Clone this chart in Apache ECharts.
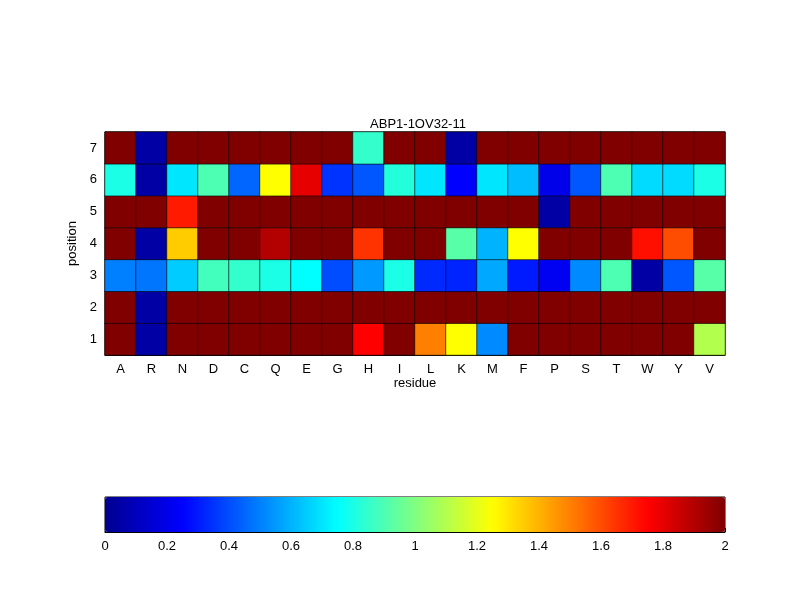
<!DOCTYPE html>
<html>
<head>
<meta charset="utf-8">
<script src="https://cdn.jsdelivr.net/npm/echarts@6/dist/echarts.min.js"></script>
<style>html,body{margin:0;background:#fff}#box{width:800px;height:600px}</style>
</head>
<body>
<div id="box"></div>
<script>
const residues = ["A","R","N","D","C","Q","E","G","H","I","L","K","M","F","P","S","T","W","Y","V"]
const positions = ["1","2","3","4","5","6","7"]
// values per position, ordered as residues
const pos1 = [2,0.05,2,2,2,2,2,2,1.75,2,1.5,1.25,0.52,2,2,2,2,2,2,1.1]
const pos2 = [2,0.05,2,2,2,2,2,2,2,2,2,2,2,2,2,2,2,2,2,2]
const pos3 = [0.5,0.48,0.65,0.88,0.85,0.8,0.75,0.4,0.55,0.8,0.33,0.32,0.58,0.3,0.22,0.52,0.9,0.05,0.42,0.92]
const pos4 = [2,0.05,1.35,2,2,1.9,2,2,1.65,2,2,0.92,0.6,1.25,2,2,2,1.72,1.6,2]
const pos5 = [2,2,1.7,2,2,2,2,2,2,2,2,2,2,2,0.05,2,2,2,2,2]
const pos6 = [0.8,0.05,0.7,0.9,0.45,1.25,1.8,0.35,0.42,0.82,0.7,0.25,0.7,0.62,0.2,0.42,0.9,0.68,0.68,0.8]
const pos7 = [2,0.05,2,2,2,2,2,2,0.85,2,2,0.05,2,2,2,2,2,2,2,2]

const rows = [pos1,pos2,pos3,pos4,pos5,pos6,pos7]
let cells = []
rows.forEach((r, yi) => r.forEach((v, xi) => cells.push([xi, yi, v])))

const jet = ['#00008f','#0000ff','#0080ff','#00ffff','#80ff80','#ffff00','#ff8000','#ff0000','#800000']
const font = {fontFamily: "Arial, Liberation Sans", color: "#000", fontSize: 13}

let myChart = echarts.init(document.getElementById("box"))
myChart.setOption({
    animation: false,
    title: {text: "ABP1-1OV32-11", left: 413, top: 113, textAlign: "center",
        textStyle: {...font, fontWeight: "normal", fontSize: 13}},
    grid: [
        {left: 105, top: 132, width: 620, height: 223, show: true, borderColor: "#000", borderWidth: 1},
        {left: 105, top: 497, width: 620, height: 35, show: true, borderColor: "#000", borderWidth: 1, backgroundColor: "transparent"}
    ],
    xAxis: [
        {type: "category", data: residues, gridIndex: 0, name: "residue", nameLocation: "middle", nameGap: 20,
            nameTextStyle: font, axisLabel: {...font, margin: 8}, axisTick: {show: false},
            axisLine: {lineStyle: {color: "#000"}}, splitLine: {show: false}},
        {type: "value", gridIndex: 1, min: 0, max: 2, interval: 0.2, axisLabel: {...font, margin: 8},
            axisTick: {inside: true, length: 4, lineStyle: {color: "#000"}}, axisLine: {lineStyle: {color: "#000"}}, splitLine: {show: false}}
    ],
    yAxis: [
        {type: "category", data: positions, gridIndex: 0, name: "position", nameLocation: "middle", nameGap: 22,
            nameTextStyle: font, axisLabel: {...font, margin: 8}, axisTick: {show: false},
            axisLine: {lineStyle: {color: "#000"}}},
        {type: "value", gridIndex: 1, show: false, min: 0, max: 1}
    ],
    visualMap: {
        type: "continuous", min: 0, max: 2, orient: "horizontal", left: 100, top: 492,
        itemWidth: 35, itemHeight: 620, calculable: false, showLabel: false, text: null,
        seriesIndex: 0, inRange: {color: jet}, padding: 5
    },
    series: [
        {type: "heatmap", xAxisIndex: 0, yAxisIndex: 0, data: cells,
            itemStyle: {borderColor: "#000", borderWidth: 0.6}},
        {type: "line", xAxisIndex: 1, yAxisIndex: 1, data: [], silent: true}
    ]
})
</script>
</body>
</html>
